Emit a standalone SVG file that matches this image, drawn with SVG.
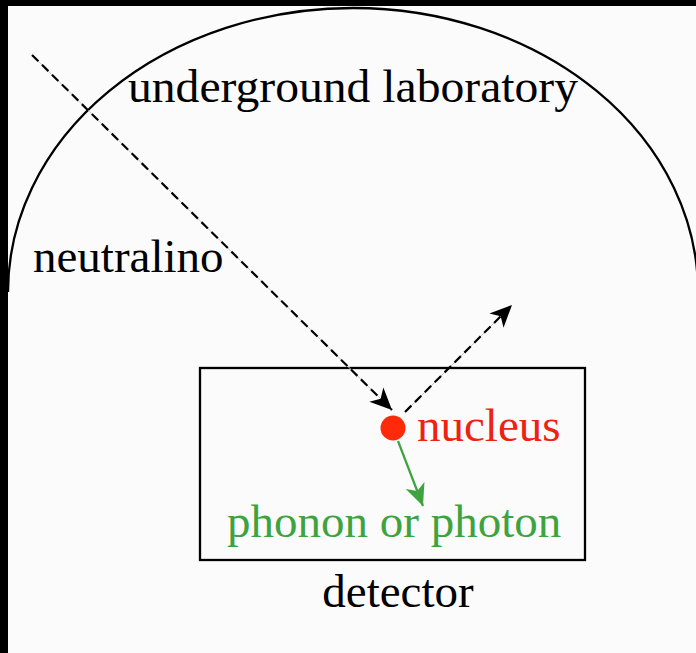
<svg xmlns="http://www.w3.org/2000/svg" width="696" height="653" viewBox="0 0 696 653">
<style>
.lbl{font-family:"Liberation Serif","Times New Roman",serif;font-size:47px}
.blk{fill:#000}
.red{fill:#ee2211}
.grn{fill:#3ea33e}
.dash{stroke:#000;stroke-width:2.2;stroke-dasharray:9 5;fill:none}
.ghost{stroke:#c4c4c4;stroke-width:1;fill:none}
.outline{fill:none;stroke:#000;stroke-width:2.3}
</style>
<defs>
<marker id="ah" markerUnits="userSpaceOnUse" markerWidth="28" markerHeight="26" viewBox="-2 -13 28 26" refX="22" refY="0" orient="auto">
<path d="M0,-10 L22,0 L0,10 L6,0 z" fill="#000"/>
</marker>
<marker id="ahg" markerUnits="userSpaceOnUse" markerWidth="28" markerHeight="26" viewBox="-2 -13 28 26" refX="22" refY="0" orient="auto">
<path d="M0,-10 L22,0 L0,10 L6,0 z" fill="#3ea33e"/>
</marker>
</defs>
<rect x="0" y="0" width="696" height="653" fill="#fbfbfb"/>
<g id="laboratory">
<path class="outline" d="M 8,292 A 345 284 0 0 1 698,292"/>
<text class="lbl blk" x="128" y="102" textLength="450" lengthAdjust="spacingAndGlyphs">underground laboratory</text>
</g>
<g id="detector">
<rect class="outline" x="200" y="368" width="385" height="192"/>
<text class="lbl blk" x="398" y="607" text-anchor="middle">detector</text>
</g>
<g id="neutralino-label">
<text class="lbl blk" x="33" y="272">neutralino</text>
</g>
<g id="connectors">
<line class="ghost" x1="32" y1="55" x2="385" y2="403"/>
<line class="dash" x1="32" y1="55" x2="392" y2="410" marker-end="url(#ah)"/>
<line class="ghost" x1="405" y1="412" x2="505" y2="312"/>
<line class="dash" x1="405" y1="412" x2="512" y2="305" marker-end="url(#ah)"/>
<line x1="398" y1="441" x2="423" y2="506" stroke="#3ea33e" stroke-width="2.2" marker-end="url(#ahg)"/>
</g>
<g id="nucleus">
<circle cx="393" cy="428" r="12.5" fill="#ff2a0a"/>
<text class="lbl red" x="417" y="441">nucleus</text>
</g>
<g id="phonon">
<text class="lbl grn" x="227" y="537">phonon or photon</text>
</g>
<rect x="0" y="0" width="696" height="6" fill="#000"/>
<rect x="0" y="0" width="8" height="653" fill="#000"/>
</svg>
